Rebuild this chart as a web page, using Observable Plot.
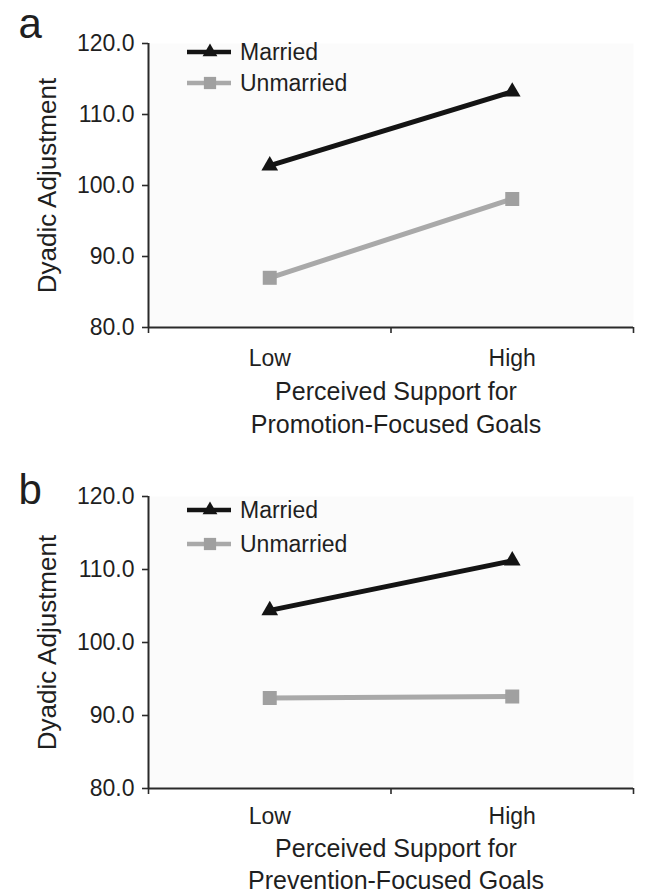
<!DOCTYPE html>
<html><head><meta charset="utf-8">
<script src="https://cdn.jsdelivr.net/npm/d3@7"></script>
<script src="https://cdn.jsdelivr.net/npm/@observablehq/plot@0.6"></script>
<style>
body{margin:0;background:#fff;}
#chart svg{display:block}
</style>
</head><body><div id="chart"></div>
<script>
// ---- data ----
const categories = ["Low", "High"];
const series = ["Married", "Unmarried"];
const seriesColors = ["#141414", "#a9a9a9"];
const markerColors = ["#141414", "#a0a0a0"];
const yTicks = [80, 90, 100, 110, 120];
const panelLetters = ["a", "b"];
const yTitle = "Dyadic Adjustment";
const xTitleA = ["Perceived Support for", "Promotion-Focused Goals"];
const xTitleB = ["Perceived Support for", "Prevention-Focused Goals"];
const marriedA = [102.8, 113.2];
const unmarriedA = [87.0, 98.1];
const marriedB = [104.4, 111.2];
const unmarriedB = [92.4, 92.6];

const FONT = "'Liberation Sans', Arial, Helvetica, sans-serif";

function rows(married, unmarried) {
  const out = [];
  [married, unmarried].forEach((vals, s) => {
    vals.forEach((v, i) => out.push({series: series[s], cat: categories[i], xi: i + 0.5, value: v}));
  });
  return out;
}

function legendMark(offsets) {
  return (index, scales, values, dims) => {
    const g = d3.create("svg:g");
    series.forEach((s, i) => {
      const y = dims.marginTop + offsets[i];
      const x0 = dims.marginLeft + 39;
      g.append("line").attr("x1", x0).attr("x2", x0 + 44).attr("y1", y).attr("y2", y)
        .attr("stroke", seriesColors[i]).attr("stroke-width", 4.5);
      const sym = d3.symbol(i === 0 ? d3.symbolTriangle : d3.symbolSquare, i === 0 ? 95 : 150)();
      g.append("path").attr("d", sym).attr("transform", `translate(${x0 + 23},${y})`).attr("fill", markerColors[i]);
      g.append("text").attr("x", dims.marginLeft + 92).attr("y", y).attr("dy", "0.35em")
        .attr("text-anchor", "start")
        .attr("font-size", 23).attr("font-family", FONT).attr("fill", "#1f1f1f").text(s);
    });
    return g.node();
  };
}

function panel(opts) {
  const data = rows(opts.married, opts.unmarried);
  return Plot.plot({
    width: 645,
    height: 447,
    marginLeft: 148,
    marginRight: 12,
    marginTop: opts.marginTop,
    marginBottom: opts.marginBottom,
    style: {fontFamily: FONT, color: "#1f1f1f", background: "#fff", overflow: "visible"},
    x: {domain: [0, categories.length], axis: null},
    y: {domain: [yTicks[0], yTicks[yTicks.length - 1]], axis: null},
    color: {domain: series, range: seriesColors},
    marks: [
      Plot.frame({fill: "#fbfbfb", stroke: null}),
      Plot.axisY({ticks: yTicks, tickFormat: d => d.toFixed(1), tickSize: 6, tickPadding: 8, fontSize: 23, label: null, stroke: "#2a2a2a", strokeWidth: 1.6}),
      Plot.axisX({ticks: d3.range(categories.length + 1), tickFormat: () => "", tickSize: 6, label: null, stroke: "#2a2a2a", strokeWidth: 1.6}),
      Plot.axisX({ticks: categories.map((c, i) => i + 0.5), tickFormat: v => categories[Math.floor(v)], tickSize: 0, tickPadding: opts.tickPad, fontSize: 23, label: null}),
      Plot.ruleX([0], {stroke: "#2a2a2a", strokeWidth: 2}),
      Plot.ruleY([yTicks[0]], {stroke: "#2a2a2a", strokeWidth: 2}),
      Plot.line(data, {x: "xi", y: "value", z: "series", stroke: "series", strokeWidth: 5}),
      Plot.dot(data.filter(d => d.series === series[0]), {x: "xi", y: "value", symbol: "triangle", r: 6.2, fill: markerColors[0], stroke: null}),
      Plot.dot(data.filter(d => d.series === series[1]), {x: "xi", y: "value", symbol: "square", r: 7.9, fill: markerColors[1], stroke: null}),
      Plot.text([yTitle], {frameAnchor: "left", rotate: -90, dx: -101, fontSize: 26, textAnchor: "middle", lineAnchor: "middle"}),
      Plot.text([opts.xTitle.join("\n")], {frameAnchor: "bottom", lineAnchor: "top", dy: opts.titleDy, dx: 5, fontSize: 25, lineHeight: opts.lineHeight, textAnchor: "middle"}),
      Plot.text([opts.letter], {frameAnchor: "top-left", textAnchor: "start", lineAnchor: "middle", dx: -130, dy: opts.letterDy, fontSize: 42}),
      legendMark(opts.legend)
    ]
  });
}

const chart = document.getElementById("chart");
chart.append(panel({married: marriedA, unmarried: unmarriedA, marginTop: 43, marginBottom: 120, xTitle: xTitleA, letter: panelLetters[0], letterDy: -19, legend: [9, 40], tickPad: 22, titleDy: 49, lineHeight: 1.32}));
chart.append(panel({married: marriedB, unmarried: unmarriedB, marginTop: 49, marginBottom: 106, xTitle: xTitleB, letter: panelLetters[1], letterDy: -6, legend: [14, 48], tickPad: 19, titleDy: 46, lineHeight: 1.28}));
</script>
</body></html>
